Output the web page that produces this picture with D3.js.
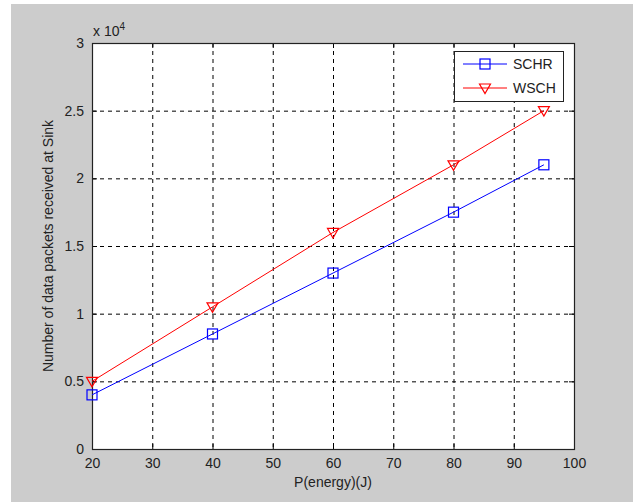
<!DOCTYPE html>
<html><head><meta charset="utf-8">
<script src="https://cdn.jsdelivr.net/npm/d3@7"></script>
<style>
body{margin:0;background:#fff;}
text{font-family:"Liberation Sans",Arial,sans-serif;fill:#222;}
</style></head>
<body>
<svg id="c" width="633" height="502"></svg>
<script>
const energy = [20, 40, 60, 80, 95];
const schr = [4000, 8500, 13000, 17500, 21000];
const wsch = [5000, 10500, 16000, 21000, 25000];
const xTicks = [20, 30, 40, 50, 60, 70, 80, 90, 100];
const yTicks = [0, 5000, 10000, 15000, 20000, 25000, 30000];
const seriesNames = ["SCHR", "WSCH"];
const seriesColors = ["#0000ff", "#ff0000"];

const svg = d3.select("#c");
svg.append("rect").attr("x", 11).attr("y", 4).attr("width", 622).attr("height", 498).attr("fill", "#cccccc");

const L = 92, R = 574, T = 43, B = 449;
const x = d3.scaleLinear().domain([20, 100]).range([L, R]);
const y = d3.scaleLinear().domain([0, 30000]).range([B, T]);

svg.append("rect").attr("x", L).attr("y", T).attr("width", R - L).attr("height", B - T).attr("fill", "#fff");

// grid
const g = svg.append("g");
g.selectAll(".gx").data(xTicks.slice(1, -1)).join("line")
  .attr("x1", d => x(d) + 0.5).attr("x2", d => x(d) + 0.5).attr("y1", T).attr("y2", B)
  .attr("stroke", "#000").attr("stroke-dasharray", "4,4").attr("stroke-width", 1);
g.selectAll(".gy").data(yTicks.slice(1, -1)).join("line")
  .attr("y1", d => y(d) + 0.5).attr("y2", d => y(d) + 0.5).attr("x1", L).attr("x2", R)
  .attr("stroke", "#000").attr("stroke-dasharray", "4,4").attr("stroke-width", 1);

// axes
const xa = svg.append("g").attr("transform", `translate(0,${B})`)
  .call(d3.axisBottom(x).tickValues(xTicks).tickSize(-5).tickPadding(9).tickFormat(d3.format("d")));
const ya = svg.append("g").attr("transform", `translate(${L},0)`)
  .call(d3.axisLeft(y).tickValues(yTicks).tickSize(-5).tickPadding(8).tickFormat(d => d / 10000));
const xt = svg.append("g").attr("transform", `translate(0,${T})`)
  .call(d3.axisTop(x).tickValues(xTicks).tickSize(-5).tickFormat(""));
const yr = svg.append("g").attr("transform", `translate(${R},0)`)
  .call(d3.axisRight(y).tickValues(yTicks).tickSize(-5).tickFormat(""));
[xa, ya, xt, yr].forEach(a => {
  a.select(".domain").remove();
  a.selectAll("line").attr("stroke", "#000");
  a.selectAll("text").attr("font-size", 14).attr("font-family", "Liberation Sans, Arial, sans-serif").attr("fill", "#222");
});
svg.append("rect").attr("x", L + 0.5).attr("y", T + 0.5).attr("width", R - L).attr("height", B - T)
  .attr("fill", "none").attr("stroke", "#222").attr("stroke-width", 1.2);

// exponent
const ex = svg.append("text").attr("x", 93).attr("y", 36).attr("font-size", 14);
ex.append("tspan").text("x 10");
ex.append("tspan").attr("dy", -6).attr("font-size", 10).text("4");

// labels
svg.append("text").attr("x", (L + R) / 2).attr("y", 487).attr("text-anchor", "middle").attr("font-size", 14).text("P(energy)(J)");
svg.append("text").attr("transform", `translate(53,${(T + B) / 2}) rotate(-90)`).attr("text-anchor", "middle").attr("font-size", 14)
  .text("Number of data packets received at Sink");

// series
const data = [schr, wsch];
const line = d3.line().x((d, i) => x(energy[i])).y(d => y(d));
function marker(sel, k) {
  if (k === 0) {
    sel.append("rect").attr("x", -5).attr("y", -5).attr("width", 10).attr("height", 10)
      .attr("fill", "none").attr("stroke", seriesColors[k]).attr("stroke-width", 1.2);
  } else {
    sel.append("path").attr("d", "M-5.5,-4 L5.5,-4 L0,5.5 Z")
      .attr("fill", "none").attr("stroke", seriesColors[k]).attr("stroke-width", 1.2);
  }
}
data.forEach((s, k) => {
  svg.append("path").datum(s).attr("d", line).attr("fill", "none").attr("stroke", seriesColors[k]).attr("stroke-width", 1);
  s.forEach((v, i) => {
    const m = svg.append("g").attr("transform", `translate(${x(energy[i])},${y(v)})`);
    marker(m, k);
  });
});

// legend
const lg = svg.append("g");
lg.append("rect").attr("x", 454.5).attr("y", 51.5).attr("width", 109).attr("height", 50)
  .attr("fill", "#fff").attr("stroke", "#222").attr("stroke-width", 1);
seriesNames.forEach((n, k) => {
  const yy = 64 + k * 24;
  lg.append("line").attr("x1", 463).attr("x2", 507).attr("y1", yy).attr("y2", yy).attr("stroke", seriesColors[k]);
  const m = lg.append("g").attr("transform", `translate(485,${yy})`);
  marker(m, k);
  lg.append("text").attr("x", 513).attr("y", yy + 5).attr("font-size", 14).text(n);
});
</script>
</body></html>
